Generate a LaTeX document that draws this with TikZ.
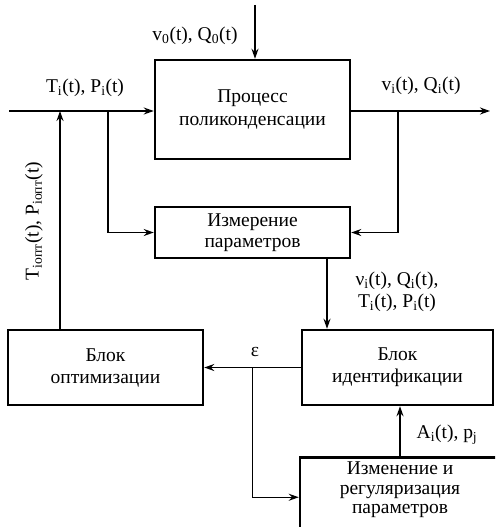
\documentclass[tikz,border=0pt]{standalone}
\usepackage{fontspec}
\setmainfont{Liberation Serif}
\usetikzlibrary{calc}
\usetikzlibrary{arrows.meta}

\begin{document}
\begin{tikzpicture}[x=1pt,y=-1pt]
		\tikzstyle{box} = [rectangle, draw, line width=2.5pt, inner sep=0pt, align=center, font=\fontsize{19.5}{23}\selectfont]
		\tikzstyle{lbl} = [inner sep=0pt, align=center, font=\fontsize{19.5}{22}\selectfont]
		\tikzstyle{arr} = [-{Stealth[length=10pt, width=7pt]}, line width=1.4pt]
		
		\useasboundingbox (0,0) rectangle (495,527);
		\clip (0,0) rectangle (495,527);
		
		\node [box, minimum width=195pt, minimum height=99pt] (proc) at (252.5,109.5) {Процесс \\ поликонденсации};
		\node [box, minimum width=195pt, minimum height=51pt, font=\fontsize{19.5}{21}\selectfont] (meas) at (252.5,232.5) {Измерение \\ параметров};
		\node [box, minimum width=195pt, minimum height=75pt, font=\fontsize{19.5}{22}\selectfont] (opt) at (105.5,367.5) {Блок \\ оптимизации};
		\node [box, minimum width=191pt, minimum height=75pt, font=\fontsize{19.5}{22}\selectfont] (ident) at (397.5,367.5) {Блок \\ идентификации};
		\node [box, minimum width=200pt, minimum height=80pt, anchor=north, font=\fontsize{19.5}{19.5}\selectfont] (reg) at (400,456) {Изменение и \\ регуляризация \\ параметров \\[-7pt] \strut};
		
		\coordinate (top) at (255,5);
		\coordinate (in) at (9,111);
		\coordinate (fb) at (60,111);
		\coordinate (br1) at (108,111);
		\coordinate (br2) at (398,111);
		\coordinate (out) at (490,111);
		\coordinate (mi) at (327,258);
		\coordinate (br3) at ($(opt.east)!0.5!(ident.west)$);
		
		\draw [arr] (top) -- (top |- proc.north);
		\draw [arr] (in) -- (in -| proc.west);
		\draw [arr] (proc.east |- out) -- (out);
		\draw [arr] (fb |- opt.north) -- (fb);
		\draw [arr] (br1) -- (br1 |- meas.west) -- (meas.west);
		\draw [arr] (br2) -- (br2 |- meas.east) -- (meas.east);
		\draw [arr] (mi) -- (mi |- ident.north);
		\draw [arr] (ident.west) -- (opt.east);
		\draw [arr] (br3) |- (reg.west);
		\draw [arr] (reg.north) -- (reg.north |- ident.south);
		
		\node [lbl] (lv0) at (195,36) {v\textsubscript{0}(t), Q\textsubscript{0}(t)};
		\node [lbl] (ltp) at (85,88) {T\textsubscript{i}(t), P\textsubscript{i}(t)};
		\node [lbl] (lvq) at (421,86) {v\textsubscript{i}(t), Q\textsubscript{i}(t)};
		\node [lbl, rotate=90] (lopt) at (34,221) {T\textsubscript{iопт}(t), P\textsubscript{iопт}(t)};
		\node [lbl] (lmeas) at (397,292) {ν\textsubscript{i}(t), Q\textsubscript{i}(t), \\ T\textsubscript{i}(t), P\textsubscript{i}(t)};
		\node [lbl] (leps) at (255,352) {ε};
		\node [lbl] (lap) at (447,435) {A\textsubscript{i}(t), p\textsubscript{j}};
	\end{tikzpicture}
\end{document}
